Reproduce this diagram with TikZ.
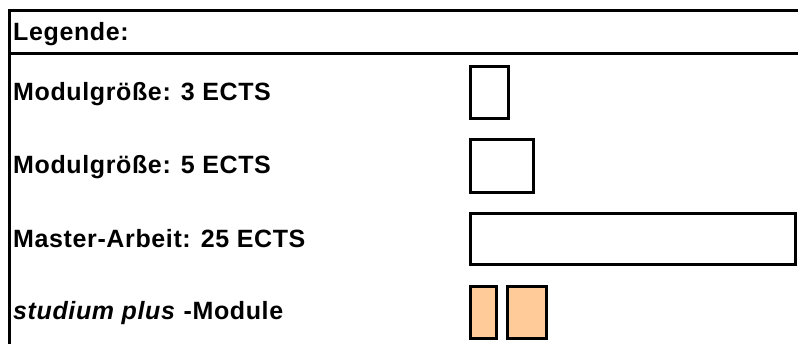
\documentclass[tikz,border=0pt]{standalone}
\usepackage{fontspec}
\setmainfont{Liberation Sans}[LetterSpace=2.5]
\definecolor{spfill}{HTML}{FFCC99}
\begin{document}
\begin{tikzpicture}[x=1pt,y=-1pt,
  lbl/.style={anchor=base west,inner sep=0pt,font=\fontsize{25}{29}\selectfont\bfseries},
  mbox/.style={draw=black,line width=3pt,inner sep=0pt,anchor=north west},
  spbox/.style={mbox,fill=spfill}]
\useasboundingbox (0,0) rectangle (798,343);
\coordinate (tl) at (9,10);
\coordinate (tr) at (800,10);
\coordinate (bl) at (9,345);
\coordinate (sl) at (9,53);
\coordinate (sr) at (800,53);
\draw[line width=3pt] (bl) -- (tl) -- (tr);
\draw[line width=3pt] (sl) -- (sr);
\node[lbl] (legende) at (13,40) {Legende:};
\node[lbl] (t3) at (13,100) {Modulgröße: 3 ECTS};
\node[lbl] (t5) at (13,173) {Modulgröße: 5 ECTS};
\node[lbl] (tma) at (13,247) {Master-Arbeit: 25 ECTS};
\node[lbl] (tsp) at (13,319) {\textit{studium plus}\hspace{8pt}-Module};
\node[mbox,minimum width=38pt,minimum height=52pt] (b3) at (469,65) {};
\node[mbox,minimum width=63pt,minimum height=53pt] (b5) at (469,138) {};
\node[mbox,minimum width=325pt,minimum height=51pt] (bma) at (469,212) {};
\node[spbox,minimum width=26pt,minimum height=52pt] (sp1) at (469,285) {};
\node[spbox,minimum width=39pt,minimum height=52pt] (sp2) at (506,285) {};
\end{tikzpicture}
\end{document}
